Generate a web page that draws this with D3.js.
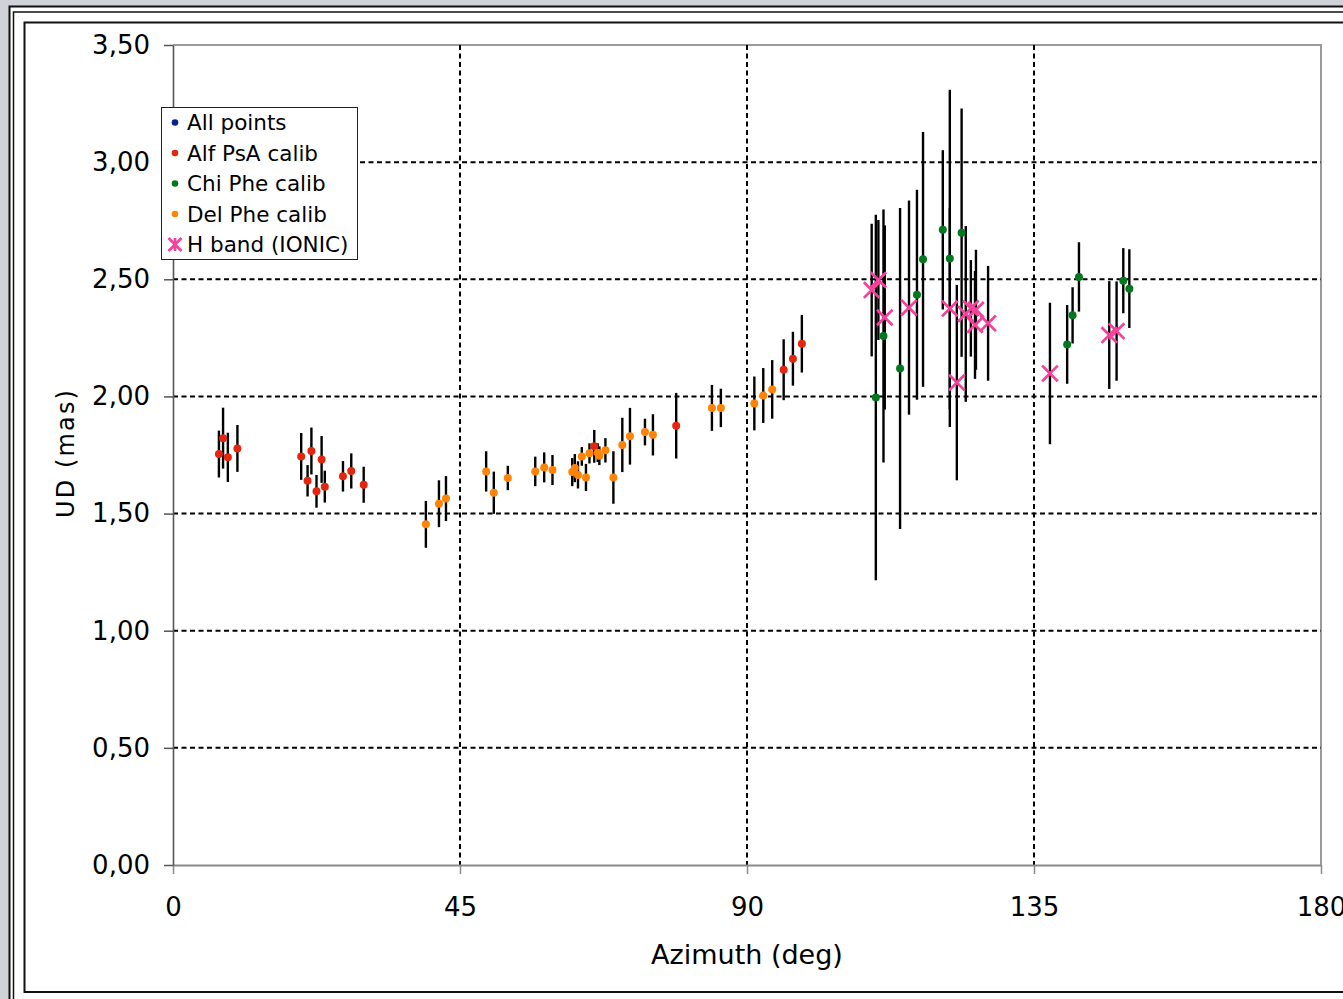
<!DOCTYPE html>
<html>
<head>
<meta charset="utf-8">
<script src="https://cdn.jsdelivr.net/npm/d3@7"></script>
<style>
  html, body { margin: 0; padding: 0; background: #d0d1d9; }
  svg { display: block; }
  text { font-family: "DejaVu Sans", Verdana, sans-serif; fill: #000; }
</style>
</head>
<body>
<div id="chart"></div>
<script>
// each point: [azimuth (deg), UD (mas), error (mas)]
const allPoints = [];
const alfPsA = [
  [7.2, 1.754, 0.10], [7.85, 1.822, 0.13], [8.6, 1.740, 0.105], [10.1, 1.778, 0.10],
  [20.1, 1.744, 0.10], [21.1, 1.640, 0.067], [21.7, 1.767, 0.10], [22.5, 1.595, 0.07],
  [23.3, 1.731, 0.10], [23.8, 1.615, 0.068], [26.65, 1.659, 0.065], [27.95, 1.682, 0.075],
  [29.9, 1.623, 0.077], [66.05, 1.787, 0.07], [78.9, 1.875, 0.14],
  [95.75, 2.114, 0.13], [97.2, 2.161, 0.115], [98.6, 2.225, 0.123]
];
const chiPhe = [
  [110.2, 1.995, 0.78], [111.4, 2.258, 0.54], [114.0, 2.119, 0.685], [116.65, 2.434, 0.448],
  [117.6, 2.585, 0.544], [120.7, 2.711, 0.34], [121.8, 2.589, 0.72], [123.65, 2.699, 0.53],
  [140.2, 2.222, 0.168], [141.05, 2.346, 0.12], [142.05, 2.510, 0.148],
  [149.0, 2.494, 0.139], [149.95, 2.460, 0.168]
];
const delPhe = [
  [39.65, 1.454, 0.10], [41.7, 1.542, 0.10], [42.8, 1.564, 0.096],
  [49.1, 1.680, 0.086], [50.3, 1.589, 0.09], [52.5, 1.652, 0.052],
  [56.8, 1.680, 0.063], [58.2, 1.697, 0.064], [59.5, 1.686, 0.064],
  [62.6, 1.677, 0.06], [63.0, 1.694, 0.06], [63.5, 1.665, 0.058], [64.1, 1.744, 0.04],
  [64.75, 1.654, 0.058], [65.3, 1.757, 0.043], [66.6, 1.760, 0.04], [66.85, 1.747, 0.04],
  [67.8, 1.770, 0.052], [69.05, 1.654, 0.112], [70.45, 1.793, 0.116], [71.65, 1.830, 0.121],
  [74.0, 1.848, 0.057], [75.25, 1.836, 0.088],
  [84.5, 1.951, 0.098], [85.9, 1.951, 0.082], [91.15, 1.970, 0.115],
  [92.55, 2.004, 0.117], [93.95, 2.030, 0.125]
];
const ionicH = [
  [109.55, 2.454, 0.283], [110.6, 2.497, 0.256], [111.6, 2.337, 0.393], [115.4, 2.379, 0.457],
  [121.8, 2.375, 0.43], [122.9, 2.059, 0.417], [124.3, 2.352, 0.375], [125.1, 2.376, 0.206],
  [125.9, 2.370, 0.256], [125.75, 2.305, 0.23], [127.8, 2.312, 0.245],
  [137.5, 2.098, 0.302], [146.8, 2.262, 0.23], [147.95, 2.279, 0.212]
];
const xTicks = [0, 45, 90, 135, 180];
const yTicks = [0, 0.5, 1, 1.5, 2, 2.5, 3, 3.5];

const series = [
  {name: 'All points', data: allPoints, color: '#0b1f8f', shape: 'dot'},
  {name: 'Alf PsA calib', data: alfPsA, color: '#e4260d', shape: 'dot'},
  {name: 'Chi Phe calib', data: chiPhe, color: '#00781e', shape: 'dot'},
  {name: 'Del Phe calib', data: delPhe, color: '#ff8405', shape: 'dot'},
  {name: 'H band (IONIC)', data: ionicH, color: '#f5419c', shape: 'star'}
];

const W = 1343, H = 999;
const margin = {left: 173, right: 1321, top: 45, bottom: 865};

const x = d3.scaleLinear().domain([0, 180]).range([margin.left, margin.right]);
const y = d3.scaleLinear().domain([0, 3.5]).range([margin.bottom, margin.top]);
const comma = d3.formatLocale({decimal: ',', thousands: '.', grouping: [3], currency: ['', '']}).format('.2f');

const svg = d3.select('#chart').append('svg')
  .attr('width', W)
  .attr('height', H);

// window frame
svg.append('rect').attr('width', W).attr('height', H).attr('fill', '#d0d1d9');
svg.append('rect').attr('x', 9.5).attr('y', 6.5).attr('width', 1400).attr('height', 1100)
  .attr('fill', '#fff').attr('stroke', '#111').attr('stroke-width', 2);
svg.append('rect').attr('x', 13.5).attr('y', 12).attr('width', 1400).attr('height', 1100)
  .attr('fill', 'none').attr('stroke', '#111').attr('stroke-width', 1.5);
svg.append('rect').attr('x', 24.5).attr('y', 22.5).attr('width', 1400).attr('height', 969.5)
  .attr('fill', '#fff').attr('stroke', '#111').attr('stroke-width', 2);

// plot border (top, right)
svg.append('path')
  .attr('d', `M${margin.left},${margin.top}H${margin.right}V${margin.bottom}`)
  .attr('fill', 'none').attr('stroke', '#9a9a9a').attr('stroke-width', 2);

// gridlines
let grid = svg.append('g').attr('class', 'grid')
  .attr('stroke', '#000').attr('stroke-width', 2).attr('stroke-dasharray', '5,3.5');
grid.selectAll('line.h')
  .data(yTicks.filter(d => d > 0 && d < 3.5))
  .enter().append('line')
  .attr('class', 'h')
  .attr('x1', margin.left).attr('x2', margin.right)
  .attr('y1', d => y(d)).attr('y2', d => y(d));
grid.selectAll('line.v')
  .data(xTicks.filter(d => d > 0 && d < 180))
  .enter().append('line')
  .attr('class', 'v')
  .attr('y1', margin.top).attr('y2', margin.bottom)
  .attr('x1', d => x(d)).attr('x2', d => x(d));

// axes
let xAxis = svg.append('g')
  .attr('transform', `translate(0, ${margin.bottom})`)
  .call(d3.axisBottom(x).tickValues(xTicks).tickSize(9).tickSizeOuter(0).tickPadding(24).tickFormat(d3.format('d')));
xAxis.select('path').attr('stroke', '#8a8a8a').attr('stroke-width', 2);
xAxis.selectAll('line').attr('stroke', '#8a8a8a').attr('stroke-width', 1.5);
xAxis.selectAll('text').style('font-size', '26px').style('font-family', '"DejaVu Sans", Verdana, sans-serif').attr('fill', '#000');

let yAxis = svg.append('g')
  .attr('transform', `translate(${margin.left}, 0)`)
  .call(d3.axisLeft(y).tickValues(yTicks).tickSize(9).tickSizeOuter(0).tickPadding(14).tickFormat(comma));
yAxis.select('path').attr('stroke', '#555').attr('stroke-width', 1.6);
yAxis.selectAll('line').attr('stroke', '#555').attr('stroke-width', 1.5);
yAxis.selectAll('text').style('font-size', '26px').style('font-family', '"DejaVu Sans", Verdana, sans-serif').attr('fill', '#000');

// axis titles
svg.append('text')
  .attr('x', 747).attr('y', 964)
  .attr('text-anchor', 'middle')
  .style('font-size', '27px')
  .text('Azimuth (deg)');
svg.append('text')
  .attr('transform', 'translate(74, 454) rotate(-90)')
  .attr('text-anchor', 'middle')
  .attr('textLength', 128).attr('lengthAdjust', 'spacing')
  .style('font-size', '24px')
  .text('UD (mas)');

// error bars
let bars = svg.append('g').attr('class', 'errbars')
  .attr('stroke', '#000').attr('stroke-width', 2.4);
series.forEach(s => {
  bars.selectAll(null)
    .data(s.data)
    .enter().append('line')
    .attr('x1', d => x(d[0])).attr('x2', d => x(d[0]))
    .attr('y1', d => y(d[1] + d[2])).attr('y2', d => y(d[1] - d[2]));
});

function star(g, cx, cy, r, color, withBar) {
  let p = `M${cx - r},${cy - r}L${cx + r},${cy + r}M${cx - r},${cy + r}L${cx + r},${cy - r}`;
  if (withBar) p += `M${cx},${cy - r}V${cy + r}`;
  g.append('path').attr('d', p).attr('stroke', color).attr('stroke-width', 2.7).attr('fill', 'none');
}

// markers
let marks = svg.append('g').attr('class', 'marks');
series.forEach(s => {
  if (s.shape === 'dot') {
    marks.selectAll(null)
      .data(s.data)
      .enter().append('circle')
      .attr('cx', d => x(d[0])).attr('cy', d => y(d[1]))
      .attr('r', 4)
      .attr('fill', s.color);
  } else {
    s.data.forEach(d => star(marks, x(d[0]), y(d[1]), 7.8, s.color, false));
  }
});

// legend
let legend = svg.append('g').attr('class', 'legend');
legend.append('rect')
  .attr('x', 161.5).attr('y', 107.5).attr('width', 196).attr('height', 152)
  .attr('fill', '#fff').attr('stroke', '#222').attr('stroke-width', 1);
series.forEach((s, i) => {
  let cy = 122.5 + i * 30.5;
  if (s.shape === 'dot') {
    legend.append('circle').attr('cx', 175).attr('cy', cy).attr('r', 3.3).attr('fill', s.color);
  } else {
    star(legend, 175, cy, 6.5, s.color, true);
  }
  legend.append('text')
    .attr('x', 187).attr('y', cy)
    .attr('dy', '0.36em')
    .style('font-size', '21.5px')
    .text(s.name);
});
</script>
</body>
</html>
